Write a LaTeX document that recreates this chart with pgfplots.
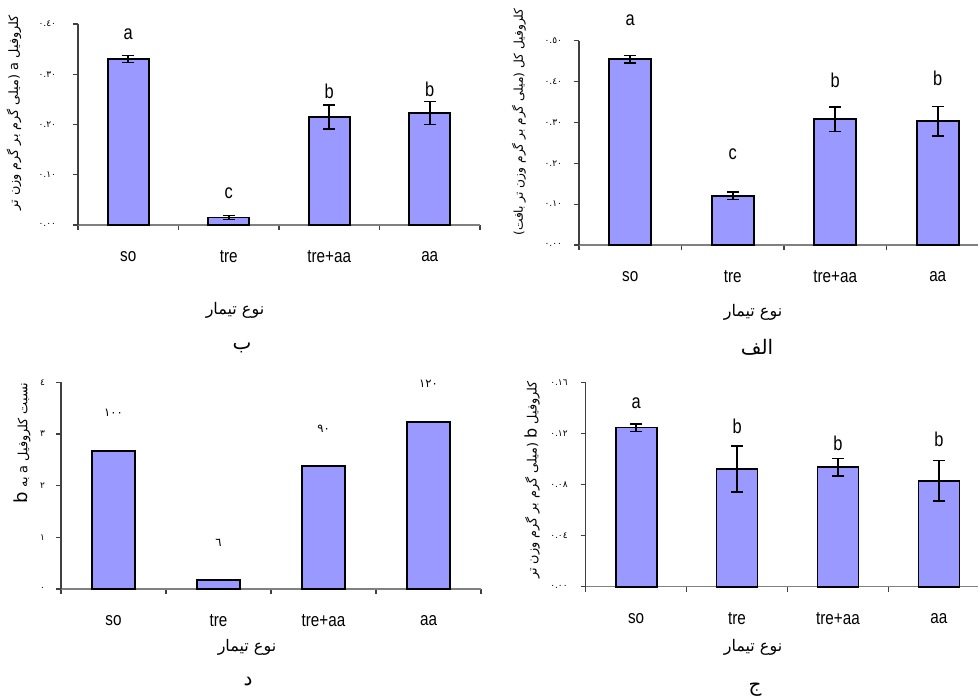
\documentclass[border=0pt]{standalone}
\usepackage{fontspec}
\setmainfont[FakeStretch=0.82]{Liberation Sans}
\newfontfamily\ar[Script=Arabic]{DejaVu Sans}
\usepackage{pgfplots}
\pgfplotsset{compat=1.18}
\TeXXeTstate=1
\definecolor{barblue}{HTML}{9999FF}
\newcommand{\AR}[1]{{\ar\beginR #1\endR}}
\pgfplotsset{
  panel/.style={
    scale only axis,
    axis x line=bottom, axis y line=left,
    axis line style={-, line width=0.7pt},
    x axis line style={draw=gray},
    y axis line style={draw=black!75},
    xmin=-0.5, ymin=0,
    xtick={0,1,2,3},
    xticklabels={so,tre,tre+aa,aa},
    major x tick style={draw=none},
    minor xtick={-0.5,0.5,1.5,2.5,3.5},
    minor tick length=2.5pt,
    major tick length=2.5pt,
    tick align=outside,
    tick style={black!75, line width=0.6pt},
    xticklabel style={font=\fontsize{9.3pt}{10pt}\selectfont, anchor=center, yshift=-13.5pt},
    yticklabel style={font=\ar\fontsize{4.5pt}{5pt}\selectfont, anchor=east},
    clip=false,
    every node/.append style={font=\fontsize{9.8pt}{10pt}\selectfont},
  },
  bars/.style={
    ybar, fill=barblue, draw=black, line width=0.85pt,
    error bars/.cd, y dir=both, y explicit,
    error bar style={line width=0.8pt, black},
    error mark options={rotate=90, line width=0.8pt, black, mark size=3pt},
  },
}
\begin{document}
\begin{tikzpicture}
\path[use as bounding box] (0,0) rectangle (489pt,349.5pt);

% ---------- top left (b)
\begin{axis}[panel, at={(39pt,237pt)}, anchor=south west,
  width=201pt, height=100.5pt, xmax=3.5, ymax=0.4,
  ytick={0,0.1,0.2,0.3,0.4},
  yticklabels={٠.٠٠,٠.١٠,٠.٢٠,٠.٣٠,٠.٤٠},
  yticklabel style={xshift=-5pt}]
\addplot[bar width=20.5pt, bars] table[x=x, y=y, y error=e] {
x y e
0 0.330 0.007
1 0.015 0.004
2 0.215 0.024
3 0.223 0.023
};
\node at (axis cs:0,0.3795) {a};
\node at (axis cs:1,0.063) {c};
\node at (axis cs:2,0.265) {b};
\node at (axis cs:3,0.270) {b};
\end{axis}

% ---------- top right (alef)
\begin{axis}[panel, at={(289.5pt,227pt)}, anchor=south west,
  width=199.5pt, height=102.15pt, xmax=3.393, ymax=0.5,
  ytick={0,0.1,0.2,0.3,0.4,0.5},
  yticklabels={٠.٠٠,٠.١٠,٠.٢٠,٠.٣٠,٠.٤٠,٠.٥٠},
  yticklabel style={xshift=-2.5pt},
  minor xtick={-0.5,0.5,1.5,2.5}]
\addplot[bar width=21pt, bars] table[x=x, y=y, y error=e] {
x y e
0 0.455 0.009
1 0.120 0.009
2 0.308 0.030
3 0.303 0.036
};
\node at (axis cs:0,0.549) {a};
\node at (axis cs:1,0.223) {c};
\node at (axis cs:2,0.404) {b};
\node at (axis cs:3,0.407) {b};
\end{axis}

% ---------- bottom left (dal)
\begin{axis}[panel, at={(30.5pt,55pt)}, anchor=south west,
  width=210pt, height=103.35pt, xmax=3.5, ymax=4,
  ytick={0,1,2,3,4},
  yticklabels={٠,١,٢,٣,٤},
  yticklabel style={xshift=-2pt}]
\addplot[bar width=21.3pt, ybar, fill=barblue, draw=black, line width=0.85pt] table[x=x, y=y] {
x y
0 2.675
1 0.18
2 2.38
3 3.23
};
\node[font=\ar\fontsize{5.8pt}{6pt}\selectfont] at (axis cs:0,3.40) {١٠٠};
\node[font=\ar\fontsize{5.8pt}{6pt}\selectfont] at (axis cs:1,0.90) {٦};
\node[font=\ar\fontsize{5.8pt}{6pt}\selectfont] at (axis cs:2,3.11) {٩٠};
\node[font=\ar\fontsize{5.8pt}{6pt}\selectfont] at (axis cs:3,3.97) {١٢٠};
\end{axis}

% ---------- bottom right (jim)
\begin{axis}[panel, at={(292.85pt,56.15pt)}, anchor=south west,
  width=196.15pt, height=102.2pt, xmax=3.388, ymax=0.16,
  ytick={0,0.04,0.08,0.12,0.16},
  yticklabels={٠.٠٠,٠.٠٤,٠.٠٨,٠.١٢,٠.١٦},
  yticklabel style={xshift=-3pt},
  minor xtick={-0.5,0.5,1.5,2.5}]
\addplot[bar width=20.5pt, bars] table[x=x, y=y, y error=e] {
x y e
0 0.1245 0.0030
1 0.0919 0.0180
2 0.0935 0.0068
3 0.0830 0.0157
};
\node at (axis cs:0,0.1436) {a};
\node at (axis cs:1,0.1252) {b};
\node at (axis cs:2,0.1122) {b};
\node at (axis cs:3,0.1154) {b};
\end{axis}

% ---------- axis titles and captions
\begin{scope}[every node/.style={font=\ar\fontsize{8pt}{9pt}\selectfont, inner sep=0pt}]
\node at (117.5pt,194.5pt) {\AR{نوع تیمار}};
\node at (376.5pt,193.5pt) {\AR{نوع تیمار}};
\node at (123.5pt,26pt) {\AR{نوع تیمار}};
\node at (376.5pt,26pt) {\AR{نوع تیمار}};
\end{scope}
\begin{scope}[every node/.style={font=\ar\fontsize{10pt}{11pt}\selectfont, inner sep=0pt}]
\node at (121pt,175.5pt) {\AR{ب}};
\node at (378.5pt,176pt) {\AR{الف}};
\node at (124pt,8.5pt) {\AR{د}};
\node at (377.5pt,4.5pt) {\AR{ج}};
\end{scope}
\begin{scope}[every node/.style={font=\ar\fontsize{6.4pt}{7pt}\selectfont, inner sep=0pt, rotate=90}]
\node at (7pt,293pt) {\AR{کلروفیل a (میلی گرم بر گرم وزن تر}};
\node[font=\ar\fontsize{6.1pt}{7pt}\selectfont] at (259.5pt,288.5pt) {\AR{کلروفیل کل (میلی گرم بر گرم وزن تر بافت)}};
\node at (11pt,128pt) {\AR{نسبت کلروفیل a به {\fontsize{9pt}{9pt}\selectfont b}}};
\node at (266pt,109.5pt) {\AR{کلروفیل {\fontsize{8pt}{8pt}\selectfont b} (میلی گرم بر گرم وزن تر}};
\end{scope}
\end{tikzpicture}
\end{document}
